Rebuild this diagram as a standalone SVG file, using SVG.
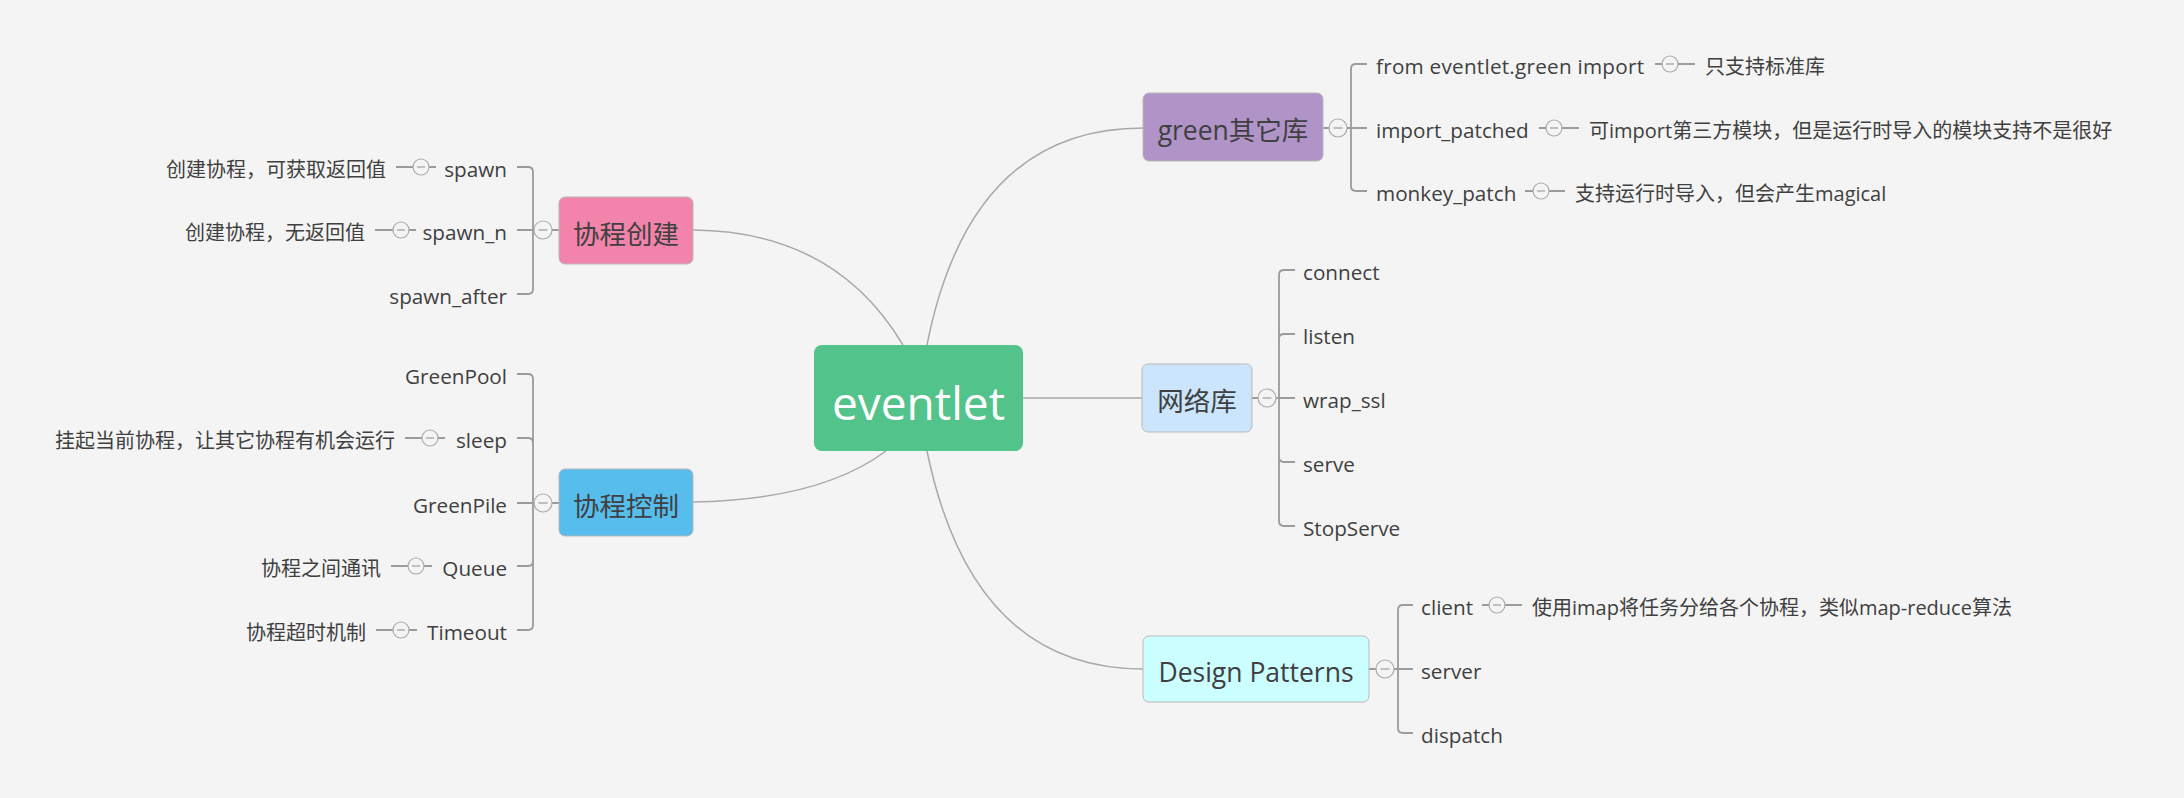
<svg xmlns="http://www.w3.org/2000/svg" xmlns:xlink="http://www.w3.org/1999/xlink" width="2184" height="798" viewBox="0 0 2184 798">
<defs>
<style>
.t{font-family:"Open Sans","Noto Sans CJK SC",sans-serif;font-size:20px;fill:#404040}
.l{font-size:20.7px}
.mt{font-family:"Open Sans","Noto Sans CJK SC",sans-serif;font-size:26.5px;fill:#404040;text-anchor:middle}
.e{text-anchor:end}
.conn{fill:none;stroke:#a9a9a9;stroke-width:1.5}
.br{fill:none;stroke:#9b9b9b;stroke-width:1.8}
.topic{stroke:#b9b9b9;stroke-width:1}
.tgc{fill:#f4f4f4;stroke:#acacac;stroke-width:1.2}
.tgm{fill:none;stroke:#9b9b9b;stroke-width:1.2}
</style>
<g id="tog9"><circle class="tgc" r="9"/><path class="tgm" d="M-4.5,0H4.5"/></g>
<g id="tog8"><circle class="tgc" r="8"/><path class="tgm" d="M-4,0H4"/></g>
</defs>
<rect width="2184" height="798" fill="#f4f4f4"/>

<g id="connectors">
<path class="conn" d="M903,345 Q835,231 693,230"/>
<path class="conn" d="M886,451 Q820,500 693,502"/>
<path class="conn" d="M927,345 Q970,128 1143,128"/>
<path class="conn" d="M1023,398 H1142"/>
<path class="conn" d="M927,451 Q972,669 1143,669"/>

<path class="br" d="M559,230 H533 M533,230 V172 Q533,167 528,167 H517 M533,230 H517 M533,230 V289 Q533,294 528,294 H517"/>
<path class="br" d="M559,503 H533 M533,503 V379 Q533,374 528,374 H517 M533,503 V443 Q533,438 528,438 H517 M533,503 H517 M533,503 V561 Q533,566 528,566 H517 M533,503 V625 Q533,630 528,630 H517"/>
<path class="br" d="M1323,128 H1351 M1351,128 V69 Q1351,64 1356,64 H1367 M1351,128 H1367 M1351,128 V186 Q1351,191 1356,191 H1367"/>
<path class="br" d="M1252,398 H1279 M1279,398 V275 Q1279,270 1284,270 H1295 M1279,398 V339 Q1279,334 1284,334 H1295 M1279,398 H1295 M1279,398 V457 Q1279,462 1284,462 H1295 M1279,398 V521 Q1279,526 1284,526 H1295"/>
<path class="br" d="M1369,669 H1398 M1398,669 V610 Q1398,605 1403,605 H1413 M1398,669 H1413 M1398,669 V728 Q1398,733 1403,733 H1413"/>

<path class="br" d="M396,167 H436 M375,230 H416 M405,438 H445 M391,566 H432 M376,630 H417"/>
<path class="br" d="M1655,64 H1695 M1539,128 H1579 M1525,191 H1565 M1482,605 H1522"/>
</g>

<g id="node-eventlet">
<rect x="814" y="345" width="209" height="106" rx="8" fill="#52c48b"/>
<text x="918.5" y="420" font-family="'Open Sans','Noto Sans CJK SC',sans-serif" font-size="46" fill="#ffffff" text-anchor="middle">eventlet</text>
</g>

<g id="node-create">
<rect class="topic" x="559" y="197" width="134" height="67" rx="6" fill="#f283aa"/>
<text class="mt" x="626" y="244">协程创建</text>
<use xlink:href="#tog9" x="543" y="230"/>
</g>
<g id="node-spawn"><text class="t l e" x="507" y="177">spawn</text><use xlink:href="#tog8" x="421" y="167"/></g>
<g id="node-spawn-desc"><text class="t e" x="386" y="177">创建协程，可获取返回值</text></g>
<g id="node-spawn_n"><text class="t l e" x="507" y="240">spawn_n</text><use xlink:href="#tog8" x="401" y="230"/></g>
<g id="node-spawn_n-desc"><text class="t e" x="365" y="240">创建协程，无返回值</text></g>
<g id="node-spawn_after"><text class="t l e" x="507" y="304">spawn_after</text></g>

<g id="node-control">
<rect class="topic" x="559" y="469" width="134" height="67" rx="6" fill="#56bdec"/>
<text class="mt" x="626" y="516">协程控制</text>
<use xlink:href="#tog9" x="543" y="503"/>
</g>
<g id="node-greenpool"><text class="t l e" x="507" y="384">GreenPool</text></g>
<g id="node-sleep"><text class="t l e" x="507" y="448">sleep</text><use xlink:href="#tog8" x="430" y="438"/></g>
<g id="node-sleep-desc"><text class="t e" x="395" y="448">挂起当前协程，让其它协程有机会运行</text></g>
<g id="node-greenpile"><text class="t l e" x="507" y="513">GreenPile</text></g>
<g id="node-queue"><text class="t l e" x="507" y="576">Queue</text><use xlink:href="#tog8" x="416" y="566"/></g>
<g id="node-queue-desc"><text class="t e" x="381" y="576">协程之间通讯</text></g>
<g id="node-timeout"><text class="t l e" x="507" y="640">Timeout</text><use xlink:href="#tog8" x="401" y="630"/></g>
<g id="node-timeout-desc"><text class="t e" x="366" y="640">协程超时机制</text></g>

<g id="node-green">
<rect class="topic" x="1143" y="93" width="180" height="68" rx="6" fill="#b094c8"/>
<text class="mt" x="1233" y="140">green其它库</text>
<use xlink:href="#tog9" x="1338" y="128"/>
</g>
<g id="node-from"><text class="t l" x="1376" y="74" textLength="268" lengthAdjust="spacing">from eventlet.green import</text><use xlink:href="#tog8" x="1670" y="64"/></g>
<g id="node-from-desc"><text class="t" x="1705" y="74">只支持标准库</text></g>
<g id="node-import_patched"><text class="t l" x="1376" y="138">import_patched</text><use xlink:href="#tog8" x="1554" y="128"/></g>
<g id="node-import_patched-desc"><text class="t" x="1589" y="138">可import第三方模块，但是运行时导入的模块支持不是很好</text></g>
<g id="node-monkey_patch"><text class="t l" x="1376" y="201">monkey_patch</text><use xlink:href="#tog8" x="1541" y="191"/></g>
<g id="node-monkey_patch-desc"><text class="t" x="1575" y="201">支持运行时导入，但会产生magical</text></g>

<g id="node-net">
<rect class="topic" x="1142" y="364" width="110" height="68" rx="6" fill="#cbe5fd"/>
<text class="mt" x="1197" y="411">网络库</text>
<use xlink:href="#tog9" x="1267" y="398"/>
</g>
<g id="node-connect"><text class="t l" x="1303" y="280">connect</text></g>
<g id="node-listen"><text class="t l" x="1303" y="344">listen</text></g>
<g id="node-wrap_ssl"><text class="t l" x="1303" y="408">wrap_ssl</text></g>
<g id="node-serve"><text class="t l" x="1303" y="472">serve</text></g>
<g id="node-stopserve"><text class="t l" x="1303" y="536">StopServe</text></g>

<g id="node-patterns">
<rect class="topic" x="1143" y="636" width="226" height="66" rx="6" fill="#ccffff"/>
<text class="mt" x="1256" y="682">Design Patterns</text>
<use xlink:href="#tog9" x="1385" y="669"/>
</g>
<g id="node-client"><text class="t l" x="1421" y="615">client</text><use xlink:href="#tog8" x="1497" y="605"/></g>
<g id="node-client-desc"><text class="t" x="1532" y="615">使用imap将任务分给各个协程，类似map-reduce算法</text></g>
<g id="node-server"><text class="t l" x="1421" y="679">server</text></g>
<g id="node-dispatch"><text class="t l" x="1421" y="743">dispatch</text></g>
</svg>
